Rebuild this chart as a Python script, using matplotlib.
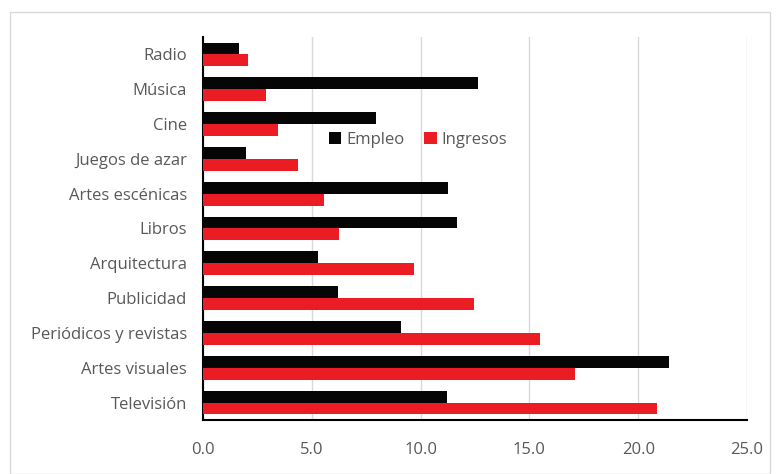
import matplotlib
matplotlib.use("Agg")
import matplotlib.pyplot as plt
from matplotlib.patches import Rectangle
import numpy as np

plt.rcParams['font.family'] = ['Open Sans', 'DejaVu Sans']

categories = ["Radio", "Música", "Cine", "Juegos de azar", "Artes escénicas", "Libros",
              "Arquitectura", "Publicidad", "Periódicos y revistas", "Artes visuales", "Televisión"]
empleo = [1.64, 12.65, 7.94, 1.99, 11.27, 11.68, 5.30, 6.19, 9.11, 21.40, 11.20]
ingresos = [2.05, 2.89, 3.43, 4.37, 5.57, 6.27, 9.70, 12.44, 15.50, 17.11, 20.87]
xticks = [0, 5, 10, 15, 20, 25]
xticklabels = ["0.0", "5.0", "10.0", "15.0", "20.0", "25.0"]

fig = plt.figure(figsize=(7.78, 4.74), dpi=100)
fig.patches.append(Rectangle((10/778, 0), 760/778, 462/474, transform=fig.transFigure,
                             fill=False, edgecolor='#d9d9d9', linewidth=1.0))
ax = fig.add_axes([203/778, 1 - 420/474, 544/778, 383/474])

y = np.arange(len(categories))
h = 0.34
ax.barh(y - h/2, empleo, height=h, color='#050505', label='Empleo', zorder=3)
ax.barh(y + h/2, ingresos, height=h, color='#ec1c24', label='Ingresos', zorder=3)

ax.set_xlim(0, 25)
ax.set_ylim(len(categories) - 0.5, -0.5)
ax.set_xticks(xticks)
ax.set_xticklabels(xticklabels)
ax.set_yticks(y)
ax.set_yticklabels(categories)
ax.tick_params(axis='both', length=0, labelsize=12, colors='#595959')
ax.tick_params(axis='x', pad=15.5)
ax.tick_params(axis='y', pad=11.5)
ax.grid(axis='x', color='#d9d9d9', linewidth=1.0, zorder=0)
for s in ['top', 'right']:
    ax.spines[s].set_visible(False)
ax.spines['left'].set_color('#000000')
ax.spines['left'].set_linewidth(1.5)
ax.spines['bottom'].set_color('#000000')
ax.spines['bottom'].set_linewidth(1.5)

leg = ax.legend(loc='center', bbox_to_anchor=(0.395, 0.731), ncol=2, frameon=False,
                fontsize=12, handlelength=0.75, handleheight=0.75, handletextpad=0.3,
                columnspacing=1.2)
for t in leg.get_texts():
    t.set_color('#595959')

fig.savefig("out.png", dpi=100)
